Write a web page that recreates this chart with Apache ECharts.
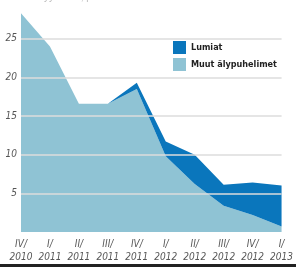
<!DOCTYPE html>
<html>
<head>
<meta charset="utf-8">
<script src="https://cdn.jsdelivr.net/npm/echarts@6/dist/echarts.min.js"></script>
<style>
  html, body { margin: 0; padding: 0; background: #fff; }
  #chart { width: 296px; height: 267px; }
</style>
</head>
<body>
<div id="chart"></div>
<script>
  var quarters = ['IV/\n2010', 'I/\n2011', 'II/\n2011', 'III/\n2011', 'IV/\n2011',
                  'I/\n2012', 'II/\n2012', 'III/\n2012', 'IV/\n2012', 'I/\n2013'];
  // osuus, prosenttia
  var muut = [28.3, 24.0, 16.6, 16.6, 18.5, 9.8, 6.2, 3.4, 2.2, 0.7];
  var lumiat = [0, 0, 0, 0, 0.8, 1.9, 3.8, 2.7, 4.2, 5.3];
  var gridValues = [5, 10, 15, 20, 25];

  var labelFont = {
    color: '#555',
    fontStyle: 'italic',
    fontSize: 10,
    fontFamily: 'DejaVu Sans Condensed'
  };

  var chart = echarts.init(document.getElementById('chart'));

  chart.setOption({
    animation: false,
    backgroundColor: '#fff',
    grid: { left: 21, right: 5, top: -4, bottom: 35 },
    legend: {
      left: 169,
      top: 40,
      orient: 'vertical',
      itemWidth: 13,
      itemHeight: 13,
      itemGap: 4,
      backgroundColor: '#fff',
      padding: [1, 4, 1, 4],
      icon: 'rect',
      data: ['Lumiat', 'Muut älypuhelimet'],
      textStyle: { color: '#222', fontWeight: 'bold', fontSize: 9, fontFamily: 'DejaVu Sans Condensed' }
    },
    graphic: [
      { type: 'text', left: 4, top: -8, style: { text: 'Osuus myynnistä, prosenttia', fill: '#bbb', fontSize: 10 } },
      { type: 'rect', left: 0, top: 264, shape: { width: 296, height: 3 }, style: { fill: '#222' } }
    ],
    xAxis: {
      type: 'category',
      data: quarters,
      boundaryGap: false,
      axisLine: { show: false },
      axisTick: { show: false },
      axisLabel: Object.assign({ margin: 6, lineHeight: 13, interval: 0 }, labelFont)
    },
    yAxis: {
      type: 'value',
      min: 0,
      max: 30,
      interval: 5,
      splitLine: { show: false },
      axisLine: { show: false },
      axisTick: { show: false },
      axisLabel: Object.assign({ margin: 4, showMinLabel: false, showMaxLabel: false }, labelFont)
    },
    series: [
      {
        name: 'Muut älypuhelimet',
        type: 'line',
        stack: 'osuus',
        data: muut,
        symbol: 'none',
        lineStyle: { width: 0 },
        itemStyle: { color: '#8fc3d4' },
        areaStyle: { color: '#8fc3d4', opacity: 1 },
        markLine: {
          silent: true,
          symbol: 'none',
          label: { show: false },
          lineStyle: { color: '#dcdcdc', type: 'solid', width: 1.5 },
          data: gridValues.map(function (v) { return { yAxis: v }; })
        },
        z: 2
      },
      {
        name: 'Lumiat',
        type: 'line',
        stack: 'osuus',
        data: lumiat,
        symbol: 'none',
        lineStyle: { width: 0 },
        itemStyle: { color: '#0a76bc' },
        areaStyle: { color: '#0a76bc', opacity: 1 },
        z: 3
      }
    ]
  });
</script>
</body>
</html>
